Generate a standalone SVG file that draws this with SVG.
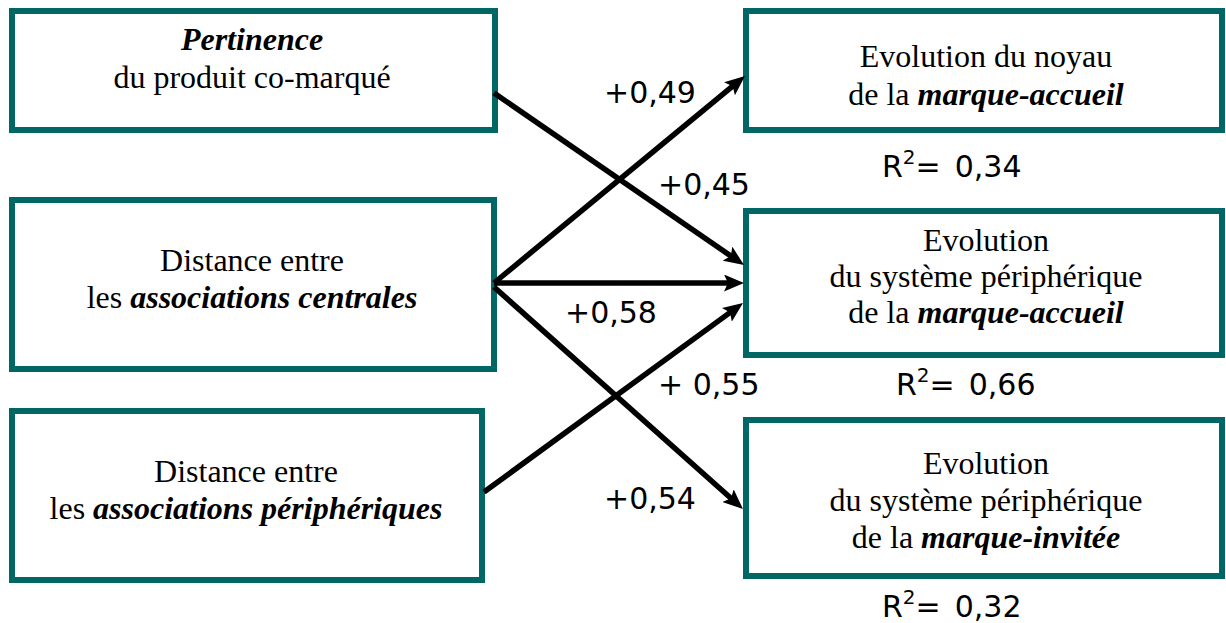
<svg xmlns="http://www.w3.org/2000/svg" width="1226" height="623" viewBox="0 0 1226 623">
<style>
.box{fill:#ffffff;stroke:#006666;stroke-width:6}
.t{font-family:"Liberation Serif","Times New Roman",serif;font-size:32px;fill:#000;text-anchor:middle}
.bi{font-weight:bold;font-style:italic}
.n{font-family:"DejaVu Sans",Verdana,sans-serif;font-size:30px;fill:#000}
.sup{font-size:20px}
.c{stroke:#000;stroke-width:5.5;fill:none;marker-end:url(#ah)}
</style>
<defs>
<marker id="ah" markerUnits="userSpaceOnUse" markerWidth="20" markerHeight="17" refX="8" refY="8.5" orient="auto">
<path d="M0,0 L20,8.5 L0,17 L4,8.5 z" fill="#000"/>
</marker>
</defs>
<rect width="1226" height="623" fill="#ffffff"/>
<g id="n1">
<rect class="box" x="12" y="11" width="483" height="119"/>
<text class="t" x="252" y="50"><tspan class="bi">Pertinence</tspan></text>
<text class="t" x="252" y="88">du produit co-marqué</text>
</g>
<g id="n2">
<rect class="box" x="12" y="200" width="482" height="169"/>
<text class="t" x="252" y="271">Distance entre</text>
<text class="t" x="252" y="308">les <tspan class="bi">associations centrales</tspan></text>
</g>
<g id="n3">
<rect class="box" x="12" y="411" width="470" height="169"/>
<text class="t" x="246" y="482">Distance entre</text>
<text class="t" x="246" y="519">les <tspan class="bi">associations périphériques</tspan></text>
</g>
<g id="r1">
<rect class="box" x="746" y="11" width="476" height="119"/>
<text class="t" x="986" y="67">Evolution du noyau</text>
<text class="t" x="986" y="105">de la <tspan class="bi">marque-accueil</tspan></text>
<text class="n" x="882" y="177">R<tspan class="sup" dy="-13">2</tspan><tspan dy="13">=</tspan><tspan dx="14">0,34</tspan></text>
</g>
<g id="r2">
<rect class="box" x="746" y="211" width="476" height="144"/>
<text class="t" x="986" y="251">Evolution</text>
<text class="t" x="986" y="287">du système périphérique</text>
<text class="t" x="986" y="323">de la <tspan class="bi">marque-accueil</tspan></text>
<text class="n" x="896" y="395">R<tspan class="sup" dy="-13">2</tspan><tspan dy="13">=</tspan><tspan dx="14">0,66</tspan></text>
</g>
<g id="r3">
<rect class="box" x="746" y="420" width="476" height="156"/>
<text class="t" x="986" y="474">Evolution</text>
<text class="t" x="986" y="511">du système périphérique</text>
<text class="t" x="986" y="548">de la <tspan class="bi">marque-invitée</tspan></text>
<text class="n" x="882" y="617">R<tspan class="sup" dy="-13">2</tspan><tspan dy="13">=</tspan><tspan dx="14">0,32</tspan></text>
</g>
<g id="connectors">
<line class="c" x1="494" y1="93" x2="734.1" y2="258.2"/>
<line class="c" x1="494" y1="283" x2="735.7" y2="83.6"/>
<line class="c" x1="494" y1="283" x2="732" y2="283"/>
<line class="c" x1="494" y1="287" x2="734" y2="501"/>
<line class="c" x1="484" y1="492" x2="733.3" y2="310.1"/>
<text class="n" x="604" y="103">+0,49</text>
<text class="n" x="658" y="195">+0,45</text>
<text class="n" x="565" y="323">+0,58</text>
<text class="n" x="658" y="395">+ 0,55</text>
<text class="n" x="604" y="509">+0,54</text>
</g>
</svg>
